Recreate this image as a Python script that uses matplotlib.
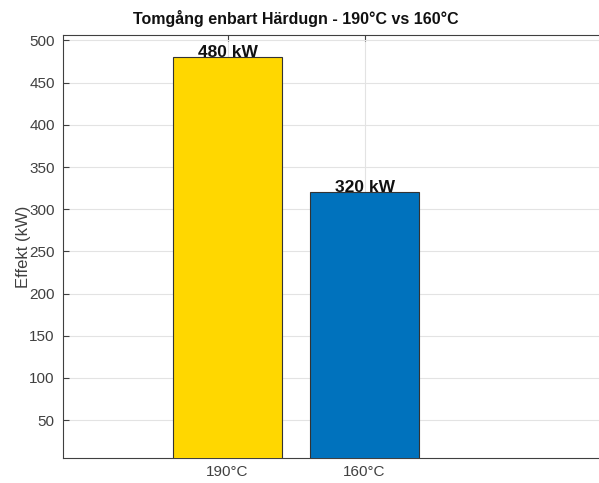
import matplotlib
matplotlib.use("Agg")
from matplotlib import pyplot as plt

categories = ["190°C", "160°C"]
values = [480, 320]
labels = ["480 kW", "320 kW"]
colors = ["#FFD700", "#0072BD"]
yticks = [50, 100, 150, 200, 250, 300, 350, 400, 450, 500]

plt.rcParams['font.family'] = ['Liberation Sans', 'DejaVu Sans']

fig = plt.figure(figsize=(5.99, 4.83), dpi=100)
ax = fig.add_axes([63 / 599, 25 / 483, 1 - 63 / 599, 423 / 483])

x = [1, 2]
ax.bar(x, values, width=0.8, color=colors, edgecolor="#333333", linewidth=0.8, zorder=3)
for xi, v, lab in zip(x, values, labels):
    ax.text(xi, v - 3, lab, ha='center', va='bottom', fontsize=12.5, fontweight='bold',
            color='#111111', zorder=4)

ax.set_xlim(-0.2, 3.71)
ax.set_ylim(5, 506.5)
ax.set_xticks(x)
ax.set_xticklabels(categories)
ax.set_yticks(yticks)
ax.grid(True, color='#e3e3e3', linewidth=0.8, zorder=0)
ax.tick_params(direction='in', colors='#404040', labelsize=11, length=4,
               top=True, right=False, pad=6)
ax.tick_params(axis='x', pad=5)
for name, sp in ax.spines.items():
    sp.set_color('#404040')
    sp.set_linewidth(0.8)
ax.spines['right'].set_visible(False)

ax.set_ylabel('Effekt (kW)', fontsize=12, color='#404040', labelpad=-1)
ax.set_title('Tomgång enbart Härdugn - 190°C vs 160°C', fontsize=11.5,
             fontweight='bold', color='#111111', pad=8, x=(296 - 63) / 536)

fig.savefig('out.png', dpi=100)
